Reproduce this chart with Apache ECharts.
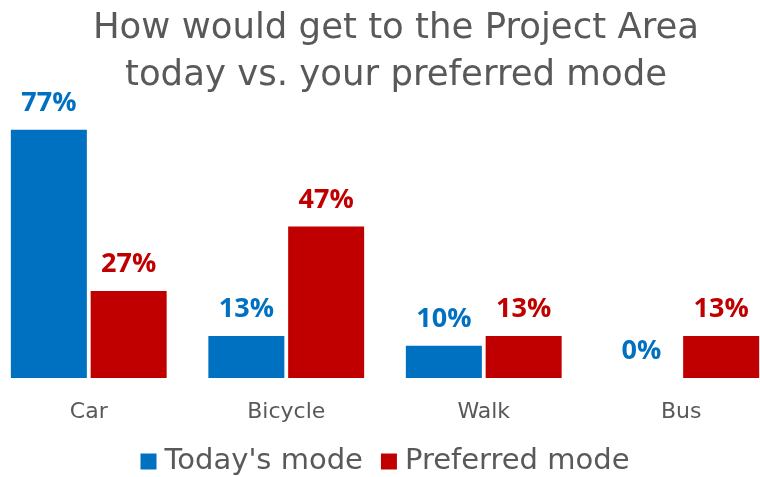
<!DOCTYPE html>
<html>
<head>
<meta charset="utf-8">
<script src="https://cdn.jsdelivr.net/npm/echarts@6/dist/echarts.min.js"></script>
<style>
  html, body { margin: 0; padding: 0; background: #fff; overflow: hidden; width: 760px; height: 477px; }
  /* the plot spills a little past both edges in the original, so the canvas is wider than the page */
  #chart { width: 790px; height: 477px; margin-left: -10px; }
</style>
</head>
<body>
<div id="chart"></div>
<script>
  // data
  var categories = ['Car', 'Bicycle', 'Walk', 'Bus'];
  var todayMode = [77, 13, 10, 0];
  var preferredMode = [27, 47, 13, 13];

  var gray = '#595959';
  var font = 'DejaVu Sans';

  var myChart = echarts.init(document.getElementById('chart'));

  function labelStyle(color) {
    return {
      show: true,
      position: 'top',
      distance: 13,
      color: color,
      fontFamily: 'Open Sans',
      fontWeight: 'bold',
      fontSize: 27,
      formatter: '{c}%'
    };
  }

  myChart.setOption({
    animation: false,
    title: {
      text: 'How would get to the Project Area\ntoday vs. your preferred mode',
      left: 406,
      top: 5,
      padding: 0,
      textAlign: 'center',
      textStyle: {
        color: gray,
        fontFamily: font,
        fontWeight: 'normal',
        fontSize: 35.5,
        lineHeight: 47
      }
    },
    legend: {
      top: 442,
      left: 'center',
      icon: 'rect',
      itemWidth: 16,
      itemHeight: 16,
      itemGap: 18,
      textStyle: { color: gray, fontFamily: font, fontSize: 29, padding: [0, 0, 0, 3] },
      data: ["Today's mode", 'Preferred mode']
    },
    grid: { left: 0, right: 0, top: 120, bottom: 99, containLabel: false },
    xAxis: {
      type: 'category',
      data: categories,
      axisLine: { show: false },
      axisTick: { show: false },
      axisLabel: { color: gray, fontFamily: font, fontSize: 22, margin: 23 }
    },
    yAxis: {
      type: 'value',
      min: 0,
      max: 80,
      show: false,
      splitLine: { show: false }
    },
    series: [
      {
        name: "Today's mode",
        type: 'bar',
        data: todayMode,
        barWidth: 76,
        barGap: '5%',
        itemStyle: { color: '#0070C0' },
        label: labelStyle('#0070C0')
      },
      {
        name: 'Preferred mode',
        type: 'bar',
        data: preferredMode,
        barWidth: 76,
        barGap: '5%',
        itemStyle: { color: '#C00000' },
        label: labelStyle('#C00000')
      }
    ]
  });
</script>
</body>
</html>
